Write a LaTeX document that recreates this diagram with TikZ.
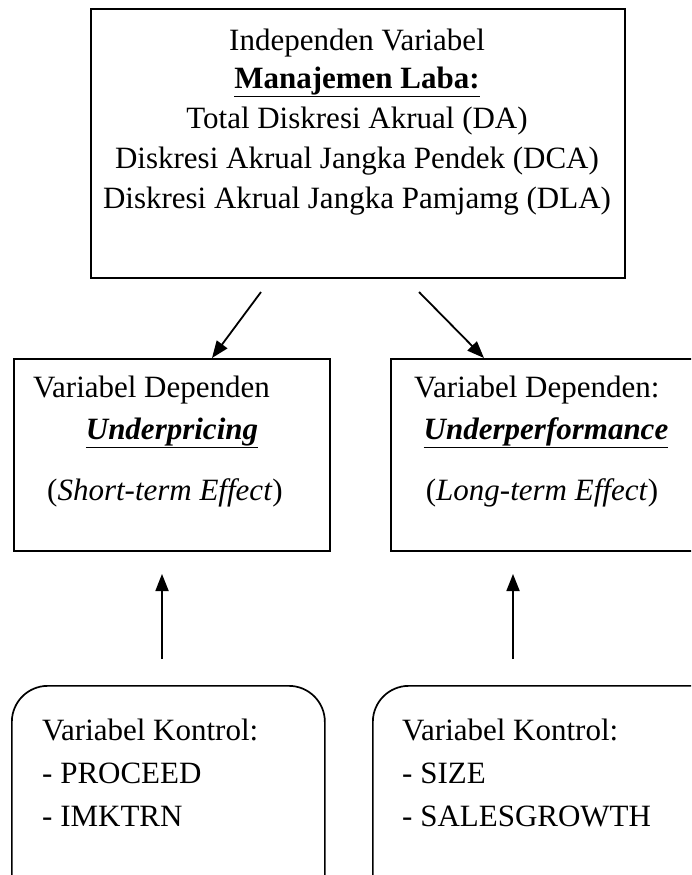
\documentclass[tikz,border=0pt]{standalone}
\usepackage{fontspec}
\setmainfont{Liberation Serif}
\usetikzlibrary{arrows.meta}
\begin{document}
\begin{tikzpicture}[x=1pt,y=-1pt,
  box/.style={draw,line width=1.7pt,inner sep=0pt,anchor=north west},
  rbox/.style={box,rounded corners=36pt},
  txt/.style={font=\fontsize{31}{37}\selectfont,inner sep=0pt},
  arr/.style={line width=1.8pt,-{Triangle[length=17pt,width=13pt]}}]
\useasboundingbox (0,0) rectangle (691,875);
\clip (0,0) rectangle (691,875);
% boxes
\node[box,minimum width=534pt,minimum height=269pt] (top) at (90,8) {};
\node[box,minimum width=316pt,minimum height=192pt] (dl) at (13,358) {};
\node[box,minimum width=330pt,minimum height=192pt] (dr) at (390,358) {};
\node[rbox,minimum width=313pt,minimum height=240pt] (kl) at (11,685) {};
\node[rbox,minimum width=360pt,minimum height=240pt] (kr) at (372,685) {};
% top text
\node[txt] (t1) at (357,43) {Independen Variabel};
\node[txt] (t2) at (357,82) {\underline{\textbf{Manajemen Laba:}}};
\node[txt] (t3) at (357,121) {Total Diskresi Akrual (DA)};
\node[txt] (t4) at (357,161) {Diskresi Akrual Jangka Pendek (DCA)};
\node[txt] (t5) at (357,201) {Diskresi Akrual Jangka Pamjamg (DLA)};
% middle left
\node[txt,anchor=west] (l1) at (33,390) {Variabel Dependen};
\node[txt] (l2) at (172,433) {\underline{\textbf{\textit{Underpricing}}}};
\node[txt] (l3) at (165,493) {(\textit{Short-term Effect})};
% middle right
\node[txt,anchor=west] (r1) at (414,390) {Variabel Dependen:};
\node[txt] (r2) at (546,433) {\underline{\textbf{\textit{Underperformance}}}};
\node[txt] (r3) at (542,493) {(\textit{Long-term Effect})};
% bottom left
\node[txt,anchor=west] (b1) at (42,730) {Variabel Kontrol:};
\node[txt,anchor=west] (b2) at (42,773) {- PROCEED};
\node[txt,anchor=west] (b3) at (42,816) {- IMKTRN};
% bottom right
\node[txt,anchor=west] (c1) at (402,730) {Variabel Kontrol:};
\node[txt,anchor=west] (c2) at (402,773) {- SIZE};
\node[txt,anchor=west] (c3) at (402,816) {- SALESGROWTH};
% arrows
\coordinate (a1s) at (261,292);
\coordinate (a1e) at (212,358);
\coordinate (a2s) at (419,292);
\coordinate (a2e) at (484,358);
\coordinate (a3s) at (162,659);
\coordinate (a3e) at (162,574);
\coordinate (a4s) at (513,659);
\coordinate (a4e) at (513,574);
\draw[arr] (a1s) -- (a1e);
\draw[arr] (a2s) -- (a2e);
\draw[arr] (a3s) -- (a3e);
\draw[arr] (a4s) -- (a4e);
\end{tikzpicture}
\end{document}
